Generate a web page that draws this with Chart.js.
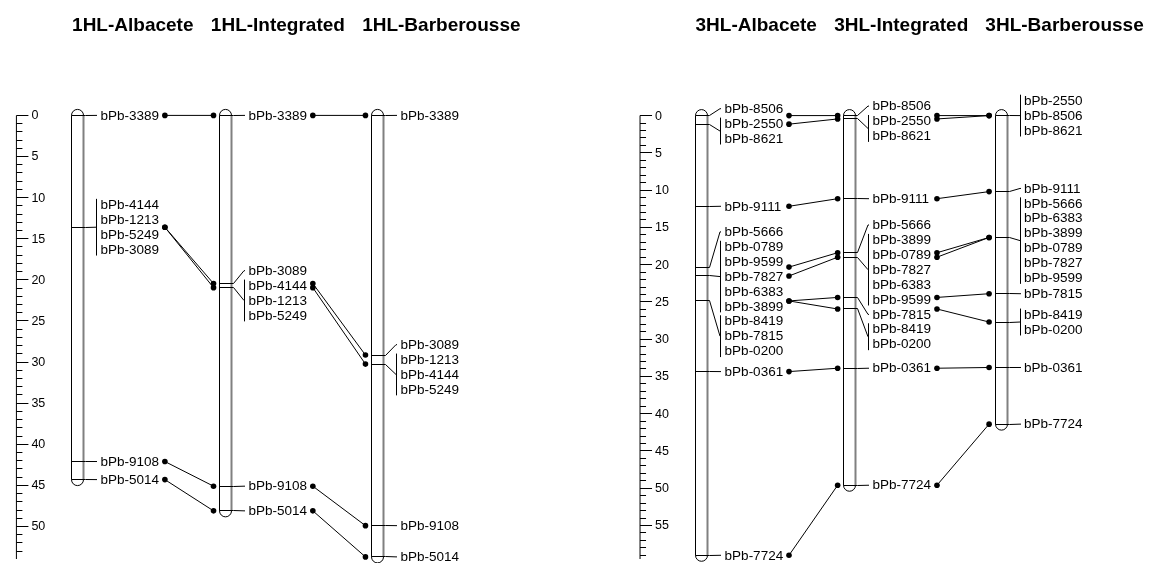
<!DOCTYPE html>
<html>
<head>
<meta charset="utf-8">
<script src="https://cdn.jsdelivr.net/npm/chart.js@4.4.1/dist/chart.umd.min.js"></script>
<style>
  html, body { margin: 0; padding: 0; background: #fff; }
  #map { display: block; }
</style>
</head>
<body>
<canvas id="map" width="1149" height="563"></canvas>
<script>
const titles1HL = ['1HL-Albacete', '1HL-Integrated', '1HL-Barberousse'];
const titles3HL = ['3HL-Albacete', '3HL-Integrated', '3HL-Barberousse'];
const ticks1HL = [0, 5, 10, 15, 20, 25, 30, 35, 40, 45, 50];
const ticks3HL = [0, 5, 10, 15, 20, 25, 30, 35, 40, 45, 50, 55];

// 1HL maps: locus positions (cM) and the markers sitting on each locus
const alb1Pos = [0, 13.6, 42.1, 44.3];
const alb1Markers = [['bPb-3389'], ['bPb-4144', 'bPb-1213', 'bPb-5249', 'bPb-3089'], ['bPb-9108'], ['bPb-5014']];
const int1Pos = [0, 20.45, 20.95, 45.1, 48.1];
const int1Markers = [['bPb-3389'], ['bPb-3089'], ['bPb-4144', 'bPb-1213', 'bPb-5249'], ['bPb-9108'], ['bPb-5014']];
const bar1Pos = [0, 29.15, 30.25, 49.9, 53.7];
const bar1Markers = [['bPb-3389'], ['bPb-3089'], ['bPb-1213', 'bPb-4144', 'bPb-5249'], ['bPb-9108'], ['bPb-5014']];

// 3HL maps
const alb3Pos = [0, 1.15, 12.17, 20.33, 21.52, 24.87, 34.35, 59.0];
const alb3Markers = [['bPb-8506'], ['bPb-2550', 'bPb-8621'], ['bPb-9111'], ['bPb-5666'],
  ['bPb-0789', 'bPb-9599', 'bPb-7827', 'bPb-6383', 'bPb-3899'], ['bPb-8419', 'bPb-7815', 'bPb-0200'],
  ['bPb-0361'], ['bPb-7724']];
const int3Pos = [0, 0.45, 11.15, 18.4, 19.0, 24.4, 25.95, 33.9, 49.6];
const int3Markers = [['bPb-8506'], ['bPb-2550', 'bPb-8621'], ['bPb-9111'], ['bPb-5666'],
  ['bPb-3899', 'bPb-0789', 'bPb-7827', 'bPb-6383', 'bPb-9599'], ['bPb-7815'], ['bPb-8419', 'bPb-0200'],
  ['bPb-0361'], ['bPb-7724']];
const bar3Pos = [0, 10.2, 16.35, 23.9, 27.7, 33.8, 41.4];
const bar3Markers = [['bPb-2550', 'bPb-8506', 'bPb-8621'], ['bPb-9111'],
  ['bPb-5666', 'bPb-6383', 'bPb-3899', 'bPb-0789', 'bPb-7827', 'bPb-9599'], ['bPb-7815'],
  ['bPb-8419', 'bPb-0200'], ['bPb-0361'], ['bPb-7724']];

// layout
const W = 1149, H = 563;
const FONT = '"Liberation Sans", Arial, Helvetica, sans-serif';
const LABEL_GAP = 14.9;   // vertical spacing of stacked marker names
const HALF = 6;           // half width of a chromosome bar

const panels = [
  {
    scale: 'y', axisX: 12.5, ticks: ticks1HL, titles: titles1HL,
    cols: [74, 223, 376], titleX: [129.7, 275.8, 440.4],
    maps: [
      { pos: alb1Pos, markers: alb1Markers },
      { pos: int1Pos, markers: int1Markers },
      { pos: bar1Pos, markers: bar1Markers }
    ]
  },
  {
    scale: 'y2', axisX: 640.5, ticks: ticks3HL, titles: titles3HL,
    cols: [702.5, 851.5, 1004], titleX: [757.5, 903.5, 1068],
    maps: [
      { pos: alb3Pos, markers: alb3Markers },
      { pos: int3Pos, markers: int3Markers },
      { pos: bar3Pos, markers: bar3Markers }
    ]
  }
];

const crisp = v => Math.floor(v) + 0.5;

// pairs of loci sharing at least one marker between two neighbouring maps
function sharedLoci(markersA, markersB) {
  const out = [];
  markersA.forEach((grpA, i) => {
    markersB.forEach((grpB, j) => {
      if (grpA.some(m => grpB.includes(m))) out.push([i, j]);
    });
  });
  return out;
}

// stack the names so they don't overlap; a merged cluster is centred
// so that its largest shift up equals its largest shift down
function layoutLabels(pixY, markers) {
  const place = c => {
    let rel = 0, lo = Infinity, hi = -Infinity;
    c.items.forEach(i => {
      const n = markers[i].length;
      const t = pixY[i] - (rel + (n - 1) * LABEL_GAP / 2);
      lo = Math.min(lo, t); hi = Math.max(hi, t);
      rel += n * LABEL_GAP;
    });
    c.top = (lo + hi) / 2;
    c.span = rel;
  };
  const clusters = pixY.map((y, i) => ({ items: [i] }));
  clusters.forEach(place);
  let merged = true;
  while (merged) {
    merged = false;
    for (let k = 0; k < clusters.length - 1; k++) {
      if (clusters[k].top + clusters[k].span > clusters[k + 1].top + 0.01) {
        clusters[k].items = clusters[k].items.concat(clusters[k + 1].items);
        clusters.splice(k + 1, 1);
        place(clusters[k]);
        merged = true;
        break;
      }
    }
  }
  const res = [];
  clusters.forEach(c => {
    let y = c.top;
    c.items.forEach(i => {
      const ys = markers[i].map((m, j) => y + j * LABEL_GAP);
      res[i] = ys;
      y += markers[i].length * LABEL_GAP;
    });
  });
  return res;
}

function drawRuler(ctx, ys, x, labels) {
  const y0 = crisp(ys.getPixelForValue(0));
  const yEnd = ys.bottom;
  ctx.save();
  ctx.strokeStyle = '#000';
  ctx.lineWidth = 1;
  ctx.beginPath();
  ctx.moveTo(x, y0);
  ctx.lineTo(x, yEnd);
  for (let v = 0; ys.getPixelForValue(v) <= yEnd; v++) {
    const y = crisp(ys.getPixelForValue(v));
    ctx.moveTo(x, y);
    ctx.lineTo(x + (v % 5 === 0 ? 12 : 6), y);
  }
  ctx.stroke();
  ctx.fillStyle = '#000';
  ctx.font = '12.5px ' + FONT;
  ctx.textAlign = 'left';
  ctx.textBaseline = 'middle';
  labels.forEach(v => ctx.fillText(String(v), x + 15, ys.getPixelForValue(v) + 0.5));
  ctx.restore();
}

function drawChromosome(ctx, ys, cx, pos, markers) {
  const top = ys.getPixelForValue(pos[0]);
  const bot = ys.getPixelForValue(pos[pos.length - 1]);
  const l = crisp(cx - HALF), r = crisp(cx + HALF);
  const mid = (l + r) / 2, rad = (r - l) / 2;
  ctx.save();
  ctx.beginPath();
  ctx.moveTo(l, top);
  ctx.arc(mid, top, rad, Math.PI, 0);
  ctx.lineTo(r, bot);
  ctx.arc(mid, bot, rad, 0, Math.PI);
  ctx.closePath();
  ctx.fillStyle = '#fff';
  ctx.fill();
  ctx.strokeStyle = '#000';
  ctx.lineWidth = 1;
  ctx.stroke();
  // grey shading on the right edge
  ctx.beginPath();
  ctx.moveTo(r, top);
  ctx.lineTo(r, bot);
  ctx.strokeStyle = '#808080';
  ctx.lineWidth = 2;
  ctx.stroke();

  const pixY = pos.map(v => ys.getPixelForValue(v));
  const labY = layoutLabels(pixY, markers);
  const bx = crisp(cx + 19);
  ctx.strokeStyle = '#000';
  ctx.lineWidth = 1;
  ctx.fillStyle = '#000';
  ctx.font = '13.5px ' + FONT;
  ctx.textAlign = 'left';
  ctx.textBaseline = 'middle';
  pixY.forEach((py, i) => {
    const ly = crisp(py);
    const names = labY[i];
    const gc = (names[0] + names[names.length - 1]) / 2;
    ctx.beginPath();
    ctx.moveTo(l, ly);
    ctx.lineTo(r + 2, ly);
    ctx.lineTo(bx - 0.5, gc);
    if (names.length === 1) {
      ctx.lineTo(bx + 0.5, gc);
    } else {
      ctx.moveTo(bx, names[0] - 6);
      ctx.lineTo(bx, names[names.length - 1] + 6);
    }
    ctx.stroke();
    markers[i].forEach((m, j) => ctx.fillText(m, cx + 23, names[j] + 0.5));
  });
  ctx.restore();
}

const mapPlugin = {
  id: 'linkageMap',
  beforeDatasetsDraw(chart) {
    const ctx = chart.ctx;
    const xs = chart.scales.x;
    panels.forEach(p => {
      const ys = chart.scales[p.scale];
      drawRuler(ctx, ys, xs.getPixelForValue(p.axisX), p.ticks);
      p.maps.forEach((m, k) => drawChromosome(ctx, ys, xs.getPixelForValue(p.cols[k]), m.pos, m.markers));
      ctx.save();
      ctx.fillStyle = '#000';
      ctx.font = 'bold 19px ' + FONT;
      ctx.textAlign = 'center';
      ctx.textBaseline = 'middle';
      p.titles.forEach((t, k) => ctx.fillText(t, xs.getPixelForValue(p.titleX[k]), 26));
      ctx.restore();
    });
  }
};

// link lines with dots between neighbouring maps
const datasets = [];
panels.forEach(p => {
  for (let k = 0; k < p.maps.length - 1; k++) {
    const a = p.maps[k], b = p.maps[k + 1];
    sharedLoci(a.markers, b.markers).forEach(([i, j]) => {
      datasets.push({
        data: [{ x: p.cols[k] + 88, y: a.pos[i] }, { x: p.cols[k + 1] - 12, y: b.pos[j] }],
        yAxisID: p.scale,
        showLine: true,
        borderColor: '#000',
        borderWidth: 1,
        pointRadius: 2.8,
        pointBorderWidth: 0,
        pointBackgroundColor: '#000',
        clip: false
      });
    });
  }
});

// pixel layout of the two cM scales (0 cM row and px per cM)
const zero1 = 113, perCM1 = 8.34;
const zero3 = 113.2, perCM3 = 7.56;

new Chart(document.getElementById('map'), {
  type: 'scatter',
  data: { datasets },
  options: {
    responsive: false,
    animation: false,
    devicePixelRatio: 1,
    events: [],
    layout: { padding: 0 },
    plugins: { legend: { display: false }, tooltip: { enabled: false } },
    scales: {
      x: { type: 'linear', min: 0, max: W, display: false },
      y: { type: 'linear', reverse: true, min: -zero1 / perCM1, max: (H - zero1) / perCM1, display: false },
      y2: { type: 'linear', reverse: true, min: -zero3 / perCM3, max: (H - zero3) / perCM3, display: false }
    }
  },
  plugins: [mapPlugin]
});
</script>
</body>
</html>
